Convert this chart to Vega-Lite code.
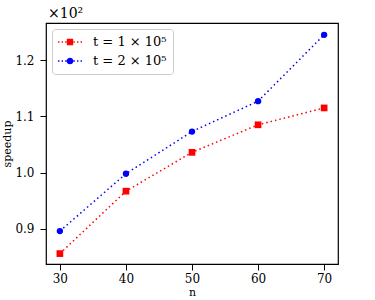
{
  "$schema": "https://vega.github.io/schema/vega-lite/v6.json",
  "width": 292,
  "height": 241,
  "autosize": {"type": "none"},
  "padding": {"left": 46, "top": 23, "right": 37, "bottom": 36},
  "background": "white",
  "config": {
    "font": "DejaVu Serif",
    "view": {"stroke": "black", "strokeWidth": 1.2},
    "axis": {"grid": false, "domain": false, "tickColor": "black", "labelColor": "black", "titleColor": "black", "labelFontSize": 12, "titleFontSize": 11, "titleFontWeight": "normal", "tickSize": 6, "tickWidth": 1}
  },
  "title": {"text": "×10²", "anchor": "start", "frame": "group", "fontSize": 14, "fontWeight": "normal", "offset": 2, "dx": 2, "color": "black", "font": "DejaVu Serif"},
  "data": {"values": [
    {"n": 30, "speedup": 0.856, "series": "t = 1 × 10⁵"},
    {"n": 40, "speedup": 0.967, "series": "t = 1 × 10⁵"},
    {"n": 50, "speedup": 1.036, "series": "t = 1 × 10⁵"},
    {"n": 60, "speedup": 1.085, "series": "t = 1 × 10⁵"},
    {"n": 70, "speedup": 1.115, "series": "t = 1 × 10⁵"},
    {"n": 30, "speedup": 0.896, "series": "t = 2 × 10⁵"},
    {"n": 40, "speedup": 0.998, "series": "t = 2 × 10⁵"},
    {"n": 50, "speedup": 1.073, "series": "t = 2 × 10⁵"},
    {"n": 60, "speedup": 1.127, "series": "t = 2 × 10⁵"},
    {"n": 70, "speedup": 1.245, "series": "t = 2 × 10⁵"}
  ]},
  "encoding": {
    "x": {"field": "n", "type": "quantitative", "title": "n", "scale": {"domain": [27.9, 72.1], "nice": false, "zero": false}, "axis": {"values": [30, 40, 50, 60, 70], "labelPadding": 3, "titlePadding": 2}},
    "y": {"field": "speedup", "type": "quantitative", "title": "speedup", "scale": {"domain": [0.8375, 1.266], "nice": false, "zero": false}, "axis": {"values": [0.9, 1.0, 1.1, 1.2], "format": ".1f", "labelPadding": 6, "titlePadding": 2}},
    "color": {"field": "series", "type": "nominal", "scale": {"domain": ["t = 1 × 10⁵", "t = 2 × 10⁵"], "range": ["#ff0000", "#0000ff"]}, "legend": {
          "title": null,
          "orient": "top-left",
          "offset": 6,
          "padding": 6,
          "strokeColor": "#cccccc",
          "fillColor": "white",
          "cornerRadius": 3,
          "symbolSize": 196,
          "symbolOffset": 5,
          "labelOffset": 16,
          "rowPadding": 5,
          "labelFontSize": 13,
          "labelColor": "black",
          "labelFont": "DejaVu Serif",
          "symbolStrokeWidth": 0,
          "symbolType": "square",
          "encode": {"symbols": {"update": {
            "shape": {"signal": "datum.value === 't = 1 × 10⁵' ? 'M-1.71,-0.1H-1.51V0.1H-1.71Z M-1.2,-0.1H-1V0.1H-1.2Z M-0.69,-0.1H-0.49V0.1H-0.69Z M0.49,-0.1H0.69V0.1H0.49Z M1,-0.1H1.2V0.1H1Z M1.51,-0.1H1.71V0.1H1.51Z M-0.45,-0.45H0.45V0.45H-0.45Z' : 'M-1.71,-0.1H-1.51V0.1H-1.71Z M-1.2,-0.1H-1V0.1H-1.2Z M-0.69,-0.1H-0.49V0.1H-0.69Z M0.49,-0.1H0.69V0.1H0.49Z M1,-0.1H1.2V0.1H1Z M1.51,-0.1H1.71V0.1H1.51Z M0.48,0A0.48,0.48 0 1,1 -0.48,0A0.48,0.48 0 1,1 0.48,0Z'"},
            "fill": {"signal": "datum.value === 't = 1 × 10⁵' ? '#ff0000' : '#0000ff'"},
            "opacity": {"value": 1},
            "strokeWidth": {"value": 0}
          }}}
        }}
  },
  "layer": [
    {
      "mark": {"type": "line", "strokeDash": [1.5, 3], "strokeWidth": 1.5}
    },
    {
      "transform": [{"filter": "datum.series === 't = 1 × 10⁵'"}],
      "mark": {"type": "point", "shape": "square", "filled": true, "opacity": 1, "size": 45}
    },
    {
      "transform": [{"filter": "datum.series === 't = 2 × 10⁵'"}],
      "mark": {"type": "point", "shape": "circle", "filled": true, "opacity": 1, "size": 40}
    }
  ]
}
